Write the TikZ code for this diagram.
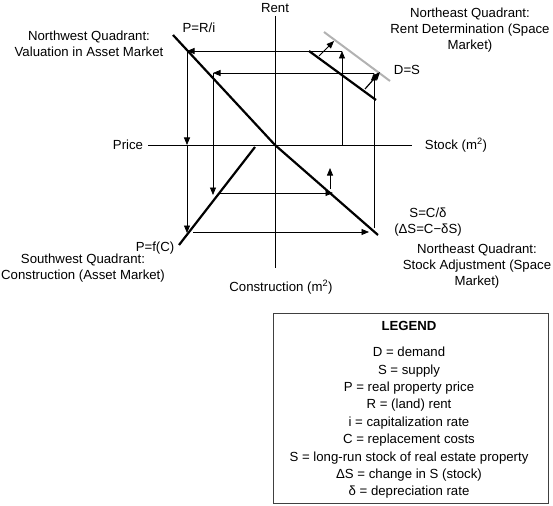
\documentclass[tikz,border=0pt]{standalone}
\usepackage{fontspec}
\setmainfont{Liberation Sans}
\usetikzlibrary{arrows.meta}
\begin{document}
\begin{tikzpicture}[x=1pt,y=-1pt,
  axisline/.style={line width=0.9pt},
  curve/.style={line width=2.2pt},
  shifted/.style={line width=2pt, draw=black!30},
  flow/.style={line width=0.8pt, -{Triangle[length=7.5pt,width=6pt]}},
  lbl/.style={font=\fontsize{13.2}{16}\selectfont, inner sep=0pt, align=center},
  legendbox/.style={draw=black!75, line width=0.9pt}]
\useasboundingbox (0,0) rectangle (553,505);
% axes
\coordinate (vtop) at (275,16);
\coordinate (vbot) at (275,268);
\coordinate (hleft) at (148,145);
\coordinate (hright) at (412,145);
\coordinate (O) at (275,145);
\draw[axisline] (vtop) -- (vbot);
\draw[axisline] (hleft) -- (hright);
% curves
\coordinate (nwA) at (173,35);
\coordinate (seB) at (378,235);
\coordinate (swA) at (179,245);
\coordinate (swB) at (255,147);
\coordinate (dA) at (309,51);
\coordinate (dB) at (376,100);
\coordinate (gA) at (324,32);
\coordinate (gB) at (390,81);
\draw[shifted] (gA) -- (gB);
\draw[curve] (nwA) -- (O);
\draw[curve] (O) -- (seB);
\draw[curve] (swA) -- (swB);
\draw[curve] (dA) -- (dB);
% flow points
\coordinate (a1) at (342,145);
\coordinate (a2) at (342,51);
\coordinate (a3) at (187,51);
\coordinate (a4) at (187,145);
\coordinate (a5) at (187,233);
\coordinate (a6) at (193,232);
\coordinate (a7) at (369,232);
\coordinate (b1) at (374,228);
\coordinate (b2) at (374,73);
\coordinate (b3) at (213,73);
\coordinate (b4) at (213,195);
\coordinate (b5) at (220,193);
\coordinate (b6) at (333,193);
\coordinate (s1) at (319,56);
\coordinate (s2) at (334,41);
\coordinate (s3) at (365,89);
\coordinate (s4) at (380,72);
\coordinate (u1) at (330,189);
\coordinate (u2) at (330,168);
\draw[flow] (a1) -- (a2);
\draw[flow] (a2) -- (a3);
\draw[flow] (a3) -- (a4);
\draw[flow] (a4) -- (a5);
\draw[flow] (a6) -- (a7);
\draw[flow] (b1) -- (b2);
\draw[flow] (b2) -- (b3);
\draw[flow] (b3) -- (b4);
\draw[flow] (b5) -- (b6);
\draw[flow] (s1) -- (s2);
\draw[flow, line width=1.2pt] (s3) -- (s4);
\draw[flow] (u1) -- (u2);
% labels
\node[lbl] (rent) at (275,8) {Rent};
\node[lbl] (price) at (128,145) {Price};
\node[lbl] (stock) at (456,145) {Stock (m\textsuperscript{2})};
\node[lbl] (constr) at (281,287) {Construction (m\textsuperscript{2})};
\node[lbl] (pri) at (199,28) {P=R/i};
\node[lbl] (ds) at (407,70) {D=S};
\node[lbl] (pfc) at (155,248) {P=f(C)};
\node[lbl] (scd) at (428,222.5) {S=C/δ\\(ΔS=C−δS)};
\node[lbl] (nw) at (89,43.5) {Northwest Quadrant:\\Valuation in Asset Market};
\node[lbl] (ne) at (470,30) {Northeast Quadrant:\\Rent Determination (Space\\Market)};
\node[lbl] (ne2) at (477,266) {Northeast Quadrant:\\Stock Adjustment (Space\\Market)};
\node[lbl] (sw) at (83,268.5) {Southwest Quadrant:\\Construction (Asset Market)};
% legend
\draw[legendbox] (273,313) rectangle (548,503);
\node[lbl, font=\fontsize{13.2}{16}\selectfont\bfseries] (legend) at (409,326) {LEGEND};
\node[lbl, font=\fontsize{13.2}{17.4}\selectfont, anchor=north] (legtext) at (409,347) {D = demand\\S = supply\\P = real property price\\R = (land) rent\\i = capitalization rate\\C = replacement costs\\S = long-run stock of real estate property\\ΔS = change in S (stock)\\δ = depreciation rate};
\end{tikzpicture}
\end{document}
